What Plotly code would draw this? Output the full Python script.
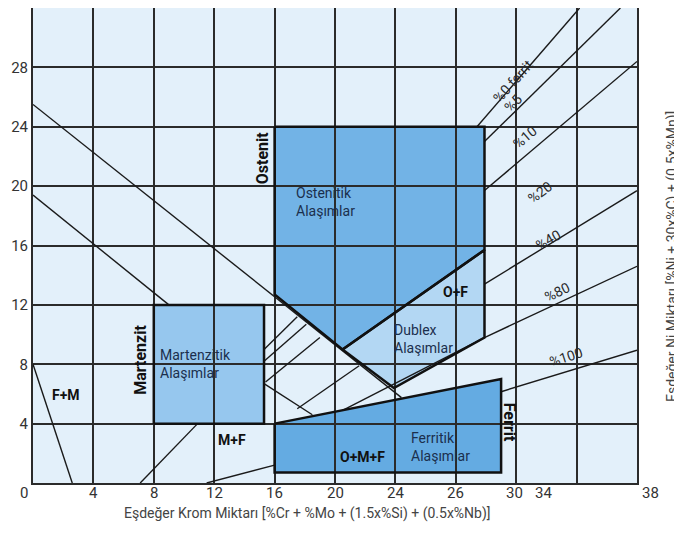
import plotly.graph_objects as go

# ---------------- data ----------------
x_tick_text = ["0", "4", "8", "12", "16", "20", "24", "26", "30", "34", "38"]
x_tick_pos = [-0.6, 4, 8, 12, 16, 20, 24, 28, 31.9, 33.8, 40.9]
y_tick_vals = [4, 8, 12, 16, 20, 24, 28]
grid_vals_x = [0, 4, 8, 12, 16, 20, 24, 28, 32, 36, 40]

# region polygons (Cr_eq, Ni_eq)
ost_x = [16, 29.9, 29.9, 20.5, 16]
ost_y = [24, 24, 15.7, 9.0, 12.7]
mar_x = [8, 15.3, 15.3, 8]
mar_y = [4, 4, 12, 12]
dub_x = [20.5, 29.9, 29.9, 23.9]
dub_y = [9.0, 15.7, 9.8, 6.4]
fer_x = [16, 31, 31, 16]
fer_y = [4, 7.0, 0.7, 0.7]

# thin boundary / iso-ferrite lines
lineA_x, lineA_y = [0, 24.4], [25.5, 5.75]
lineB1_x, lineB1_y = [0, 9.0], [19.4, 12.0]
lineB2_x, lineB2_y = [15.3, 18.5], [6.7, 4.6]
fm_x, fm_y = [0, 2.6], [8, 0]
mf_x, mf_y = [7.1, 10.9], [0, 4]
p100a_x, p100a_y = [11.5, 16], [0, 1.2]
p100b_x, p100b_y = [31, 40], [6.15, 8.95]
s1_x, s1_y = [15.3, 17.5], [9.0, 11.2]
s2_x, s2_y = [15.3, 18.1], [8.2, 10.7]
s3_x, s3_y = [15.4, 19.0], [6.8, 9.8]
s4_x, s4_y = [17.5, 21.6], [5.0, 7.9]
p80a_x, p80a_y = [20.5, 29.9], [4.9, 9.8]
p80b_x, p80b_y = [29.9, 40], [9.8, 14.6]
p40_x, p40_y = [29.9, 40], [13.4, 19.7]
p10_x, p10_y = [29.9, 40], [19.7, 28.4]
p5_x, p5_y = [29.9, 38.9], [23.0, 32]
p0_x, p0_y = [29.4, 36.2], [24, 32]

# text labels
pct_labels = ["%0 ferrit", "%5", "%10", "%20", "%40", "%80", "%100"]
pct_x = [31.8, 31.8, 32.6, 33.6, 34.1, 34.7, 35.3]
pct_y = [27.1, 25.6, 23.3, 19.6, 16.4, 12.9, 8.5]
pct_ang = [-48, -45, -40, -36, -30, -26, -18]

BG = "#e3f0fa"
X_MAX = 40.0
PLOT_H = 475.0
fig = go.Figure()

def poly_path(xs, ys):
    return "M " + " L ".join(f"{a},{b}" for a, b in zip(xs, ys)) + " Z"

for xs, ys, col in [(ost_x, ost_y, "#72b3e6"), (mar_x, mar_y, "#96c7ee"),
                    (dub_x, dub_y, "#b3d7f3"), (fer_x, fer_y, "#64abe2")]:
    fig.add_shape(type="path", path=poly_path(xs, ys), xref="x", yref="y",
                  fillcolor=col, line=dict(width=0), layer="below")

thin = [(lineA_x, lineA_y), (lineB1_x, lineB1_y), (lineB2_x, lineB2_y), (fm_x, fm_y),
        (mf_x, mf_y), (p100a_x, p100a_y), (p100b_x, p100b_y), (s1_x, s1_y), (s2_x, s2_y),
        (s3_x, s3_y), (s4_x, s4_y), (p80a_x, p80a_y), (p80b_x, p80b_y), (p40_x, p40_y),
        (p10_x, p10_y), (p5_x, p5_y), (p0_x, p0_y)]
for xs, ys in thin:
    fig.add_trace(go.Scatter(x=xs, y=ys, mode="lines", line=dict(color="#1a1a1a", width=1.4),
                             hoverinfo="skip", showlegend=False))

for xs, ys in [(ost_x, ost_y), (mar_x, mar_y), (dub_x, dub_y), (fer_x, fer_y)]:
    fig.add_trace(go.Scatter(x=xs + xs[:1], y=ys + ys[:1], mode="lines",
                             line=dict(color="#111111", width=2.5),
                             hoverinfo="skip", showlegend=False))

FONT = "Roboto"
ann = []
def add(text, x, y, size=14, color="#1b2f4d", bold=False, angle=0, xanchor="center", align="center"):
    if bold:
        text = "<b>" + text + "</b>"
    ann.append(dict(text=text, x=x, y=y, xref="x", yref="y", showarrow=False,
                    textangle=angle, xanchor=xanchor, yanchor="middle", align=align,
                    font=dict(family=FONT, size=size, color=color)))

add("Ostenit", 15.25, 21.9, size=16, color="#111", bold=True, angle=-90)
add("Ostenitik<br>Alaşımlar", 17.3, 18.9, xanchor="left", align="left")
add("Martenzit", 7.15, 8.3, size=16, color="#111", bold=True, angle=-90)
add("Martenzitik<br>Alaşımlar", 8.3, 8.0, xanchor="left", align="left")
add("F+M", 2.2, 5.9, color="#111", bold=True)
add("M+F", 13.2, 2.9, color="#111", bold=True)
add("O+M+F", 21.8, 1.75, color="#111", bold=True)
add("Ferritik<br>Alaşımlar", 24.9, 2.4, xanchor="left", align="left")
add("Ferrit", 31.55, 4.1, size=16, color="#111", bold=True, angle=90)
add("O+F", 28.0, 12.85, color="#111", bold=True)
add("Dublex<br>Alaşımlar", 23.8, 9.7, xanchor="left", align="left")
for t, x, y, a in zip(pct_labels, pct_x, pct_y, pct_ang):
    add(t, x, y, size=14, color="#2a2a2a", angle=a)

for t, x in zip(x_tick_text, x_tick_pos):
    ann.append(dict(text=t, x=x / X_MAX, y=-10 / PLOT_H, xref="paper", yref="paper",
                    showarrow=False, xanchor="center", yanchor="middle",
                    font=dict(family=FONT, size=15, color="#333")))

ann.append(dict(text="Eşdeğer Krom Miktarı [%Cr + %Mo + (1.5x%Si) + (0.5x%Nb)]",
                x=0.455, y=-30 / PLOT_H, xref="paper", yref="paper", showarrow=False,
                xanchor="center", yanchor="middle",
                font=dict(family=FONT, size=14, color="#444")))
ann.append(dict(text="Eşdeğer Ni Miktarı [%Ni + 30x%C) + (0.5x%Mn)]",
                x=1.058, y=226 / PLOT_H, xref="paper", yref="paper", showarrow=False,
                textangle=-90, xanchor="center", yanchor="middle",
                font=dict(family=FONT, size=14, color="#444")))

# the page body adds an 8px margin, so the figure is sized to sit inside the window
fig.update_layout(
    width=674, height=530,
    margin=dict(l=25, r=45, t=0, b=55, autoexpand=False),
    paper_bgcolor="white", plot_bgcolor=BG,
    annotations=ann,
    xaxis=dict(range=[0, X_MAX], tickvals=grid_vals_x, showticklabels=False, showgrid=True,
               gridcolor="#2b2b2b", gridwidth=1.6, zeroline=False, showline=True,
               linecolor="#2b2b2b", linewidth=2, mirror=True, ticks=""),
    yaxis=dict(range=[0, 32], tickvals=y_tick_vals, showgrid=True, gridcolor="#2b2b2b",
               gridwidth=1.6, zeroline=False, showline=True, linecolor="#2b2b2b",
               linewidth=2, mirror=True, ticks="",
               tickfont=dict(family=FONT, size=15, color="#333")),
)
fig.write_html("out.html")
